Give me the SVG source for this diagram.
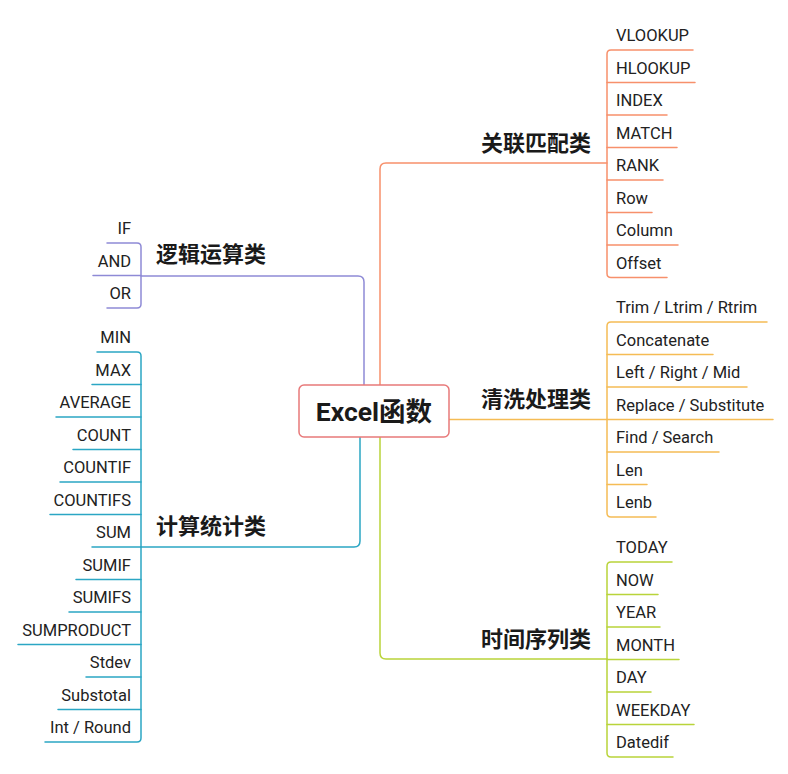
<svg xmlns="http://www.w3.org/2000/svg" width="788" height="774" viewBox="0 0 788 774">
<style>
.c{fill:none;stroke-width:1.5;stroke-linecap:round;stroke-linejoin:round}
.o{stroke:#F7906B}.y{stroke:#F5BC55}.g{stroke:#B9D43A}.p{stroke:#8E8AD6}.t{stroke:#2BA6C4}
.leaf{font-family:Roboto,"Noto Sans CJK SC",sans-serif;font-size:16.5px;fill:#222}
.r{text-anchor:end}
.topic{font-family:"Noto Sans CJK SC",Roboto,sans-serif;font-size:22px;font-weight:bold;fill:#1a1a1a}
.root{font-family:Roboto,"Noto Sans CJK SC",sans-serif;font-size:26.5px;font-weight:bold;fill:#1a1a1a;text-anchor:middle}
</style>
<rect width="788" height="774" fill="#ffffff"/>
<g id="connectors">
<path class="c o" d="M380,385 V169 Q380,163 386,163 H607"/>
<path class="c y" d="M449,419.5 H607"/>
<path class="c g" d="M380,437 V653 Q380,659 386,659 H607"/>
<path class="c p" d="M364,385 V282 Q364,276 358,276 H141"/>
<path class="c t" d="M360,437 V541 Q360,547 354,547 H141"/>
<path class="c o" d="M693,50 H611 Q607,50 607,54 V273.5 Q607,277.5 611,277.5 H667"/>
<path class="c o" d="M607,82.5 H695 M607,115 H667 M607,147.5 H677 M607,180 H663 M607,212.5 H652 M607,245 H678"/>
<path class="c y" d="M767,322 H611 Q607,322 607,326 V513 Q607,517 611,517 H656"/>
<path class="c y" d="M607,354.5 H713 M607,387 H747 M607,419.5 H773 M607,452 H719 M607,484.5 H647"/>
<path class="c g" d="M672,562 H611 Q607,562 607,566 V753 Q607,757 611,757 H673"/>
<path class="c g" d="M607,594.5 H658 M607,627 H660 M607,659.5 H679 M607,692 H651 M607,724.5 H694"/>
<path class="c p" d="M107,243 H137 Q141,243 141,247 V304 Q141,308 137,308 H107"/>
<path class="c p" d="M141,275.5 H93"/>
<path class="c t" d="M97,352 H137 Q141,352 141,356 V738 Q141,742 137,742 H45"/>
<path class="c t" d="M141,384.5 H92 M141,417 H56 M141,449.5 H73 M141,482 H60 M141,514.5 H50 M141,547 H92 M141,579.5 H76 M141,612 H69 M141,644.5 H18 M141,677 H86 M141,709.5 H58"/>
</g>
<g id="root">
<rect x="299" y="385" width="150" height="52" rx="5" fill="#ffffff" stroke="#E8797A" stroke-width="1.5"/>
<text class="root" x="374" y="421">Excel函数</text>
</g>
<g id="topic-guanlian"><text class="topic" x="591" y="151" text-anchor="end">关联匹配类</text></g>
<g id="topic-qingxi"><text class="topic" x="591" y="407" text-anchor="end">清洗处理类</text></g>
<g id="topic-shijian"><text class="topic" x="591" y="647" text-anchor="end">时间序列类</text></g>
<g id="topic-luoji"><text class="topic" x="156" y="262">逻辑运算类</text></g>
<g id="topic-jisuan"><text class="topic" x="156" y="534">计算统计类</text></g>
<g id="leaves-guanlian" class="leaf">
<text x="616" y="41">VLOOKUP</text>
<text x="616" y="73.5">HLOOKUP</text>
<text x="616" y="106">INDEX</text>
<text x="616" y="138.5">MATCH</text>
<text x="616" y="171">RANK</text>
<text x="616" y="203.5">Row</text>
<text x="616" y="236">Column</text>
<text x="616" y="268.5">Offset</text>
</g>
<g id="leaves-qingxi" class="leaf">
<text x="616" y="313">Trim / Ltrim / Rtrim</text>
<text x="616" y="345.5">Concatenate</text>
<text x="616" y="378">Left / Right / Mid</text>
<text x="616" y="410.5">Replace / Substitute</text>
<text x="616" y="443">Find / Search</text>
<text x="616" y="475.5">Len</text>
<text x="616" y="508">Lenb</text>
</g>
<g id="leaves-shijian" class="leaf">
<text x="616" y="553">TODAY</text>
<text x="616" y="585.5">NOW</text>
<text x="616" y="618">YEAR</text>
<text x="616" y="650.5">MONTH</text>
<text x="616" y="683">DAY</text>
<text x="616" y="715.5">WEEKDAY</text>
<text x="616" y="748">Datedif</text>
</g>
<g id="leaves-luoji" class="leaf r">
<text x="131" y="234">IF</text>
<text x="131" y="266.5">AND</text>
<text x="131" y="299">OR</text>
</g>
<g id="leaves-jisuan" class="leaf r">
<text x="131" y="343">MIN</text>
<text x="131" y="375.5">MAX</text>
<text x="131" y="408">AVERAGE</text>
<text x="131" y="440.5">COUNT</text>
<text x="131" y="473">COUNTIF</text>
<text x="131" y="505.5">COUNTIFS</text>
<text x="131" y="538">SUM</text>
<text x="131" y="570.5">SUMIF</text>
<text x="131" y="603">SUMIFS</text>
<text x="131" y="635.5">SUMPRODUCT</text>
<text x="131" y="668">Stdev</text>
<text x="131" y="700.5">Substotal</text>
<text x="131" y="733">Int / Round</text>
</g>
</svg>
